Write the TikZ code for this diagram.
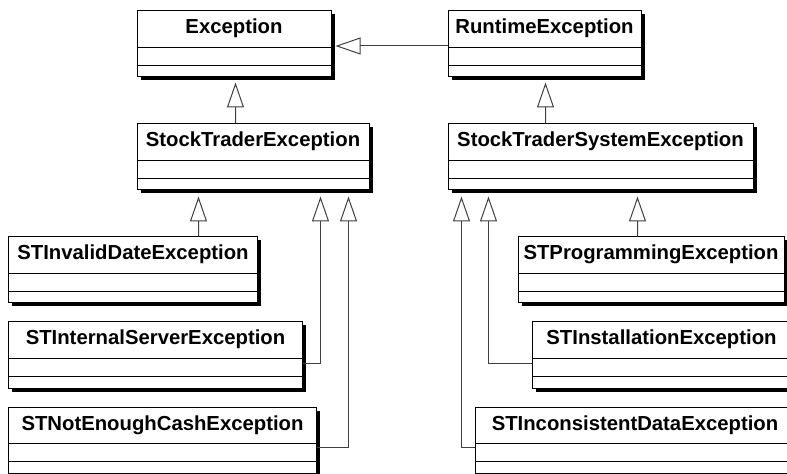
\documentclass[tikz,border=0pt]{standalone}
\usepackage{fontspec}
\setmainfont{Liberation Sans}
\usetikzlibrary{arrows.meta,shadows}
\begin{document}
\begin{tikzpicture}[x=1bp,y=-1bp,
  cls/.style={draw=black, line width=1bp, fill=white, inner xsep=0pt, inner ysep=0pt,
    text height=23bp, text depth=43bp, align=center,
    font=\fontsize{20.3bp}{24bp}\selectfont\bfseries,
    drop shadow={shadow xshift=3.5bp, shadow yshift=-3.5bp, fill=black, opacity=1}},
  divline/.style={draw=black, line width=1bp},
  gen/.style={draw=black!75, line width=1bp, -{Triangle[open, length=25bp, width=17bp, line width=1bp]}}
]
\clip (0,0) rectangle (787,474);
\fill[white] (0,0) rectangle (787,474);

\node[cls, minimum width=194bp] (exc) at (234,44) {Exception};
\node[cls, minimum width=193bp] (rt) at (544.5,44) {RuntimeException};
\node[cls, minimum width=232bp] (ste) at (253,157) {StockTraderException};
\node[cls, minimum width=305bp] (stse) at (600.5,157) {StockTraderSystemException};
\node[cls, minimum width=248bp] (inv) at (133,270) {STInvalidDateException};
\node[cls, minimum width=266bp] (prog) at (651,270) {STProgrammingException};
\node[cls, minimum width=293bp] (int) at (155.5,355) {STInternalServerException};
\node[cls, minimum width=259bp] (inst) at (661.5,355) {STInstallationException};
\node[cls, minimum width=307bp] (cash) at (162.5,440) {STNotEnoughCashException};
\node[cls, minimum width=320bp] (incon) at (635,440) {STInconsistentDataException};

\foreach \n in {exc,rt,ste,stse,inv,prog,int,inst,cash,incon}{
  \draw[divline] ([yshift=-37bp]\n.north west) -- ([yshift=-37bp]\n.north east);
  \draw[divline] ([yshift=-55bp]\n.north west) -- ([yshift=-55bp]\n.north east);
}

% generalizations
\draw[gen] ([yshift=-2bp]rt.west) -- ([xshift=4bp,yshift=-2bp]exc.east);
\draw[gen] ([xshift=99bp]ste.north west) -- ([xshift=99bp,yshift=-5bp]exc.south west);
\draw[gen] ([xshift=98bp]stse.north west) -- ([xshift=98bp,yshift=-5bp]rt.south west);
\draw[gen] ([xshift=190bp]inv.north west) -- ([xshift=62bp,yshift=-6bp]ste.south west);
\draw[gen] ([yshift=-42bp]int.north east) -| ([xshift=184bp,yshift=-6bp]ste.south west);
\draw[gen] ([yshift=-41bp]cash.north east) -| ([xshift=212bp,yshift=-6bp]ste.south west);
\draw[gen] ([xshift=120bp]prog.north west) -- ([xshift=190bp,yshift=-6bp]stse.south west);
\draw[gen] ([yshift=-42bp]inst.north west) -| ([xshift=41bp,yshift=-6bp]stse.south west);
\draw[gen] ([yshift=-41bp]incon.north west) -| ([xshift=14bp,yshift=-6bp]stse.south west);
\end{tikzpicture}
\end{document}
